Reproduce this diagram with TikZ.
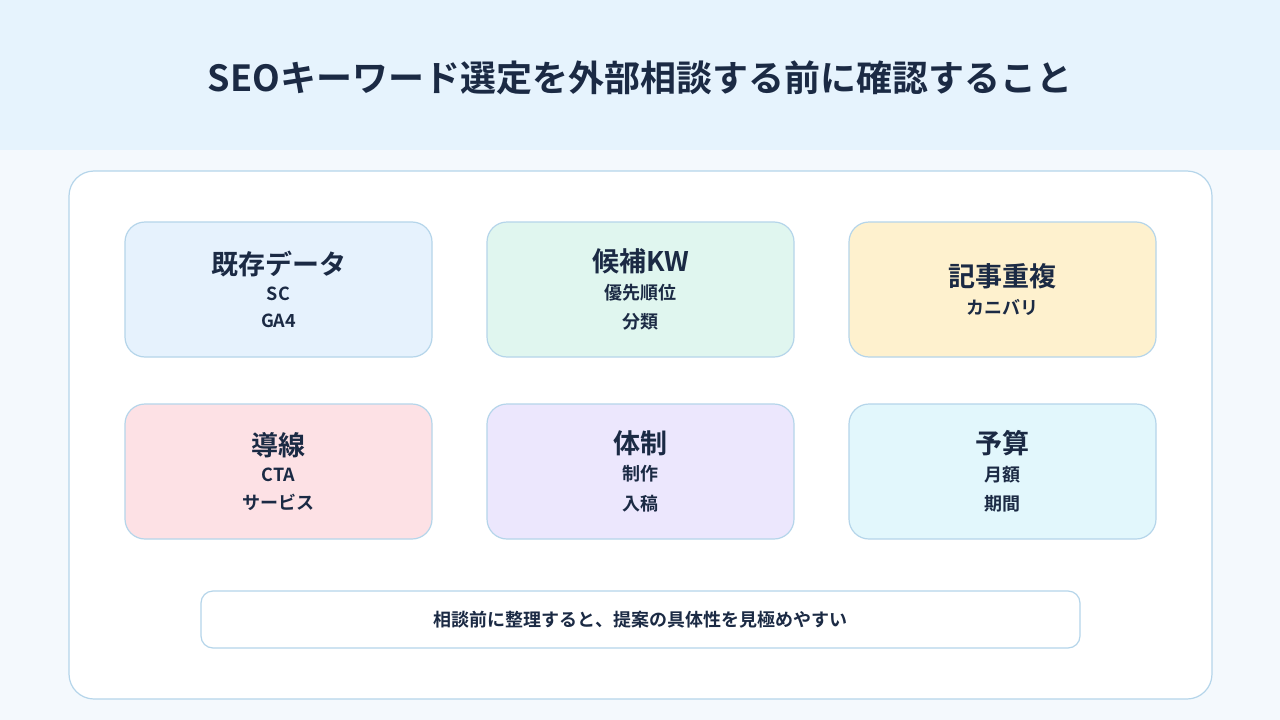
\documentclass[tikz,border=0pt]{standalone}
\usepackage{fontspec}
\setmainfont{Noto Sans CJK JP}[BoldFont={Noto Sans CJK JP Bold}]
\usetikzlibrary{positioning}
\definecolor{ink}{HTML}{1B2A44}
\definecolor{headbg}{HTML}{E6F3FD}
\definecolor{pagebg}{HTML}{F4F9FD}
\definecolor{edge}{HTML}{B5D5EA}
\definecolor{cblue}{HTML}{E6F2FD}
\definecolor{cgreen}{HTML}{E0F6EF}
\definecolor{cyellow}{HTML}{FEF1CE}
\definecolor{cpink}{HTML}{FDE1E5}
\definecolor{cpurple}{HTML}{ECE7FD}
\definecolor{ccyan}{HTML}{E2F7FC}
\newcommand{\bigF}{\fontsize{27}{30}\selectfont}
\newcommand{\subF}{\fontsize{18}{29}\selectfont}
\newcommand{\cardThree}[3]{\bigF #1\\[9pt] \subF #2\\[12pt] \subF #3}
\newcommand{\cardTwo}[2]{\bigF #1\\[9pt] \subF #2}
\begin{document}
\begin{tikzpicture}
	[
		x=1pt, y=-1pt,
		font={\bfseries}, text=ink,
		every text node part/.style={align=center},
		card/.style={
			draw=edge, line width=1.2pt,
			rounded corners=20,
			minimum width=307, minimum height=135,
			inner sep=0,
		},
	]
	\useasboundingbox (0,0) rectangle (1280,720);
	\fill[pagebg] (0,0) rectangle (1280,720);
	\fill[headbg] (0,0) rectangle (1280,150);
	\node (title) at (640,78) {\fontsize{36}{40}\selectfont SEOキーワード選定を外部相談する前に確認すること};
	\draw[edge, fill=white, line width=1.2pt, rounded corners=25] (69,171) rectangle (1212,699);
	\node[card, fill=cblue] (data) at (278.5,289.5) {\cardThree{既存データ}{SC}{GA4}};
	\node[card, fill=cgreen] (kw) at (640.5,289.5) {\cardThree{候補KW}{優先順位}{分類}};
	\node[card, fill=cyellow] (dup) at (1002.5,289.5) {\cardTwo{記事重複}{カニバリ}};
	\node[card, fill=cpink] (flow) at (278.5,471.5) {\cardThree{導線}{CTA}{サービス}};
	\node[card, fill=cpurple] (team) at (640.5,471.5) {\cardThree{体制}{制作}{入稿}};
	\node[card, fill=ccyan] (budget) at (1002.5,471.5) {\cardThree{予算}{月額}{期間}};
	\node[draw=edge, fill=white, line width=1.2pt, rounded corners=12,
		minimum width=879, minimum height=57] (note) at (640.5,619.5)
		{\fontsize{18}{22}\selectfont 相談前に整理すると、提案の具体性を見極めやすい};
\end{tikzpicture}
\end{document}
